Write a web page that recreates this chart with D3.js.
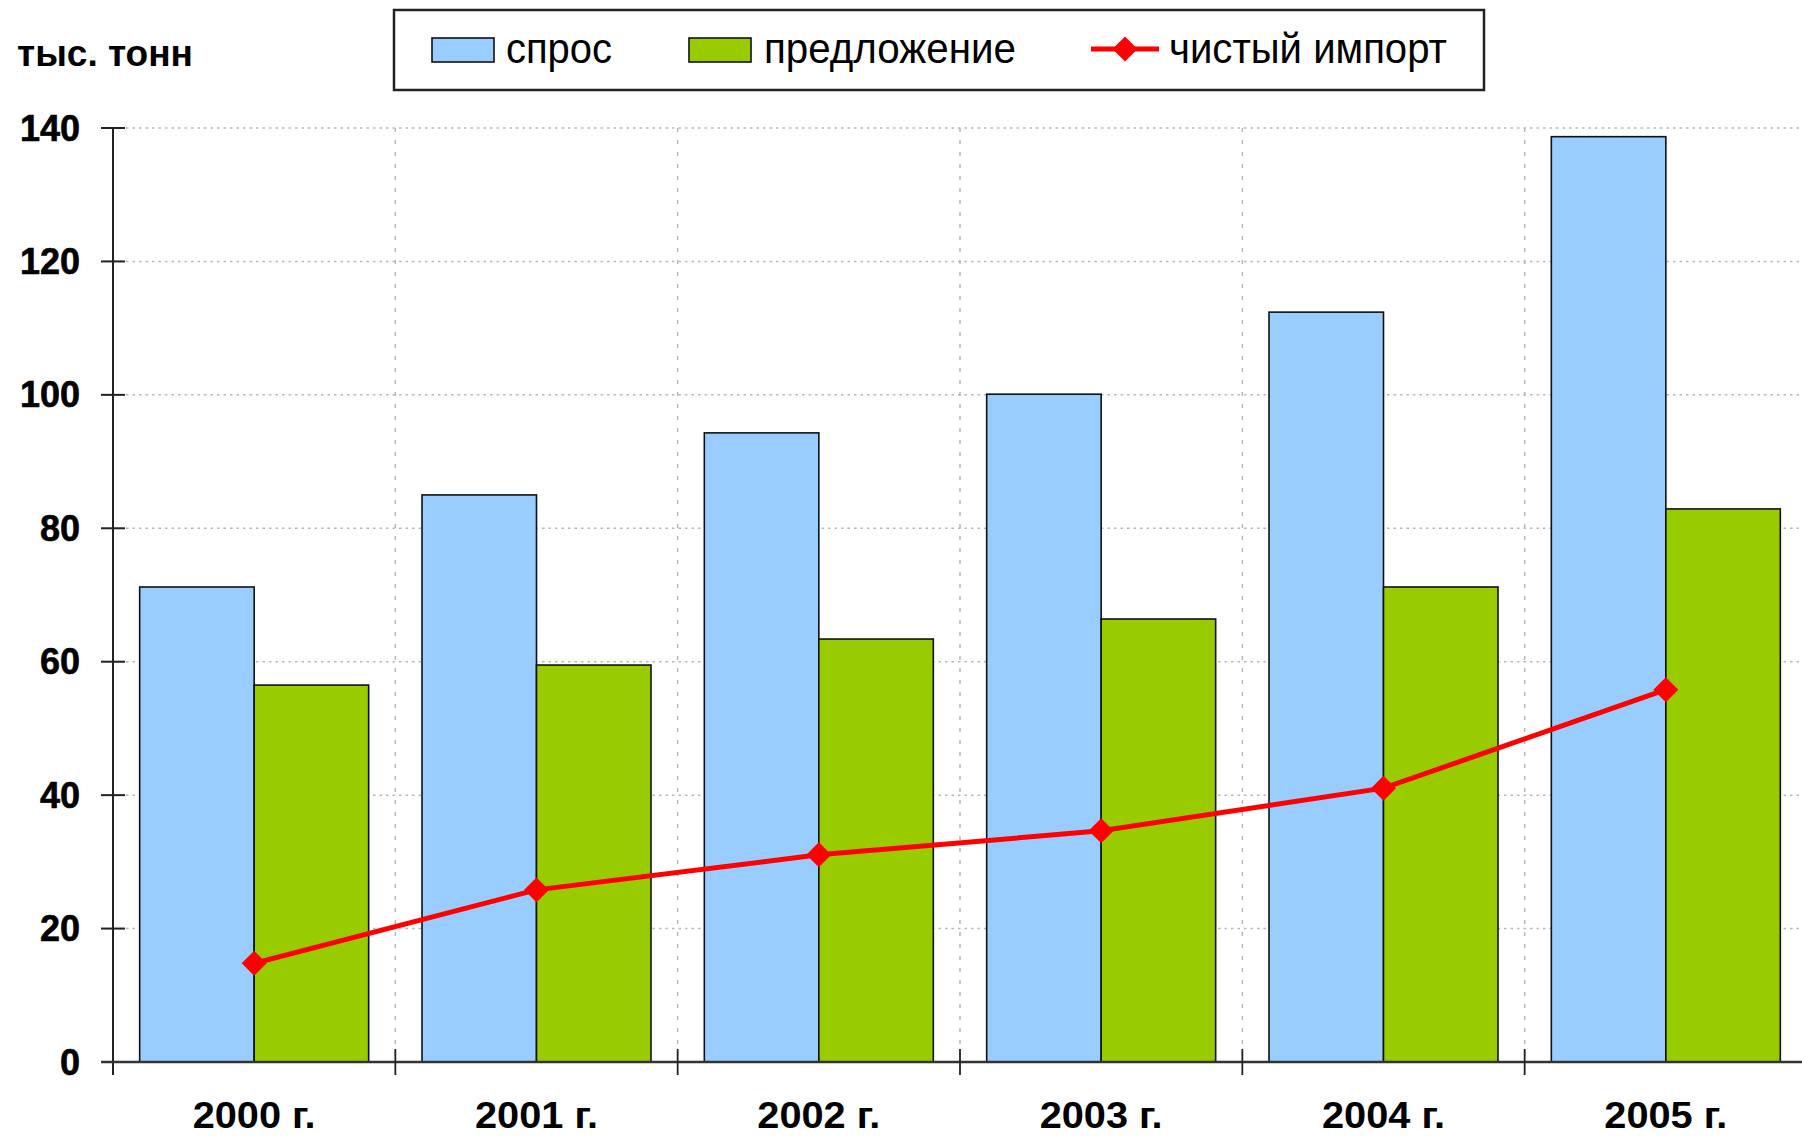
<!DOCTYPE html>
<html><head><meta charset="utf-8">
<script src="https://cdn.jsdelivr.net/npm/d3@7"></script>
<style>
html,body{margin:0;padding:0;background:#fff;overflow:hidden;}
svg{display:block;}
</style></head>
<body>
<svg id="chart" width="1802" height="1137"></svg>
<script>
const categories = ["2000 г.", "2001 г.", "2002 г.", "2003 г.", "2004 г.", "2005 г."];
const demand = [71.2, 85.0, 94.3, 100.1, 112.4, 138.7];
const supply = [56.5, 59.5, 63.4, 66.4, 71.2, 82.9];
const netImport = [14.8, 25.8, 31.05, 34.65, 41.05, 55.8];
const yTicks = [0, 20, 40, 60, 80, 100, 120, 140];
const seriesNames = ["спрос", "предложение", "чистый импорт"];
const unitLabel = "тыс. тонн";

(function () {
const svg = d3.select("#chart");
const pLeft = 113, pRight = 1807, pTop = 128, pBottom = 1062;
const font = "'Liberation Sans', Arial, sans-serif";

const x = d3.scaleBand().domain(categories).range([pLeft, pRight]).paddingInner(0).paddingOuter(0);
const xs = d3.scaleBand().domain(["d", "s"]).range([0, x.bandwidth()]).paddingInner(0).paddingOuter(0.233);
const y = d3.scaleLinear().domain([0, 140]).range([pBottom, pTop]);

// horizontal gridlines
svg.append("g").selectAll("line").data(yTicks.filter(t => t > 0)).join("line")
  .attr("x1", pLeft).attr("x2", 1802).attr("y1", d => y(d)).attr("y2", d => y(d))
  .attr("stroke", "#b8b8b8").attr("stroke-width", 1.5).attr("stroke-dasharray", "2.5,4");
// vertical gridlines
svg.append("g").selectAll("line").data(categories.slice(1)).join("line")
  .attr("x1", d => x(d)).attr("x2", d => x(d)).attr("y1", pTop).attr("y2", pBottom)
  .attr("stroke", "#b8b8b8").attr("stroke-width", 1.5).attr("stroke-dasharray", "4,8");

// bars
const groups = svg.append("g").selectAll("g").data(categories).join("g")
  .attr("transform", d => `translate(${x(d)},0)`);
groups.append("rect")
  .attr("x", xs("d")).attr("width", xs.bandwidth())
  .attr("y", (d, i) => y(demand[i])).attr("height", (d, i) => y(0) - y(demand[i]))
  .attr("fill", "#99CCFF").attr("stroke", "#111").attr("stroke-width", 1.6);
groups.append("rect")
  .attr("x", xs("s")).attr("width", xs.bandwidth())
  .attr("y", (d, i) => y(supply[i])).attr("height", (d, i) => y(0) - y(supply[i]))
  .attr("fill", "#99CC00").attr("stroke", "#111").attr("stroke-width", 1.6);

// axes
const yAxis = svg.append("g");
yAxis.append("line").attr("x1", pLeft).attr("x2", pLeft).attr("y1", pTop).attr("y2", pBottom + 13)
  .attr("stroke", "#222").attr("stroke-width", 2);
yAxis.selectAll(".tk").data(yTicks).join("line").attr("class", "tk")
  .attr("x1", pLeft - 12).attr("x2", pLeft + 12).attr("y1", d => y(d)).attr("y2", d => y(d))
  .attr("stroke", "#222").attr("stroke-width", 2);
yAxis.selectAll("text").data(yTicks).join("text")
  .attr("x", 80).attr("y", d => y(d) + 12.5).attr("text-anchor", "end")
  .attr("font-family", font).attr("font-weight", "bold").attr("font-size", 36)
  .attr("stroke", "#000").attr("stroke-width", 0.6)
  .attr("fill", "#000").text(d => d);

const xAxis = svg.append("g");
xAxis.append("line").attr("x1", pLeft - 12).attr("x2", 1802).attr("y1", pBottom).attr("y2", pBottom)
  .attr("stroke", "#333").attr("stroke-width", 2.5);
xAxis.selectAll(".tk").data(categories.slice(1)).join("line").attr("class", "tk")
  .attr("x1", d => x(d)).attr("x2", d => x(d)).attr("y1", pBottom - 13).attr("y2", pBottom + 13)
  .attr("stroke", "#222").attr("stroke-width", 1.8);
xAxis.selectAll("text").data(categories).join("text")
  .attr("x", d => x(d) + x.bandwidth() / 2).attr("y", 1128).attr("text-anchor", "middle")
  .attr("font-family", font).attr("font-weight", "bold").attr("font-size", 37)
  .attr("textLength", 123).attr("lengthAdjust", "spacingAndGlyphs")
  .attr("fill", "#000").text(d => d);

// net import line
const line = d3.line().x((d, i) => x(categories[i]) + x.bandwidth() / 2).y(d => y(d));
svg.append("path").datum(netImport).attr("d", line)
  .attr("fill", "none").attr("stroke", "#FF0000").attr("stroke-width", 5);
const diamond = d3.symbol(d3.symbolSquare, 312);
svg.append("g").selectAll("path").data(netImport).join("path")
  .attr("d", diamond)
  .attr("transform", (d, i) => `translate(${x(categories[i]) + x.bandwidth() / 2},${y(d)}) rotate(45)`)
  .attr("fill", "#FF0000");

// unit label
svg.append("text").attr("x", 17).attr("y", 66)
  .attr("font-family", font).attr("font-weight", "bold").attr("font-size", 36)
  .attr("textLength", 176).attr("lengthAdjust", "spacingAndGlyphs")
  .attr("fill", "#000").text(unitLabel);

// legend
const lg = svg.append("g");
lg.append("rect").attr("x", 394).attr("y", 10).attr("width", 1090).attr("height", 80)
  .attr("fill", "#fff").attr("stroke", "#222").attr("stroke-width", 2.5);
lg.append("rect").attr("x", 432).attr("y", 38).attr("width", 62).attr("height", 24)
  .attr("fill", "#99CCFF").attr("stroke", "#111").attr("stroke-width", 1.6);
lg.append("rect").attr("x", 689).attr("y", 38).attr("width", 62).attr("height", 24)
  .attr("fill", "#99CC00").attr("stroke", "#111").attr("stroke-width", 1.6);
lg.append("line").attr("x1", 1091).attr("x2", 1159).attr("y1", 49).attr("y2", 49)
  .attr("stroke", "#FF0000").attr("stroke-width", 5);
lg.append("path").attr("d", diamond).attr("transform", "translate(1125,49) rotate(45)").attr("fill", "#FF0000");
const legendText = [[506, 106], [764, 252], [1169, 278]];
lg.selectAll("text").data(seriesNames).join("text")
  .attr("x", (d, i) => legendText[i][0]).attr("y", 63)
  .attr("textLength", (d, i) => legendText[i][1]).attr("lengthAdjust", "spacingAndGlyphs")
  .attr("font-family", font).attr("font-size", 42).attr("fill", "#000").text(d => d);
})();
</script>
</body></html>
